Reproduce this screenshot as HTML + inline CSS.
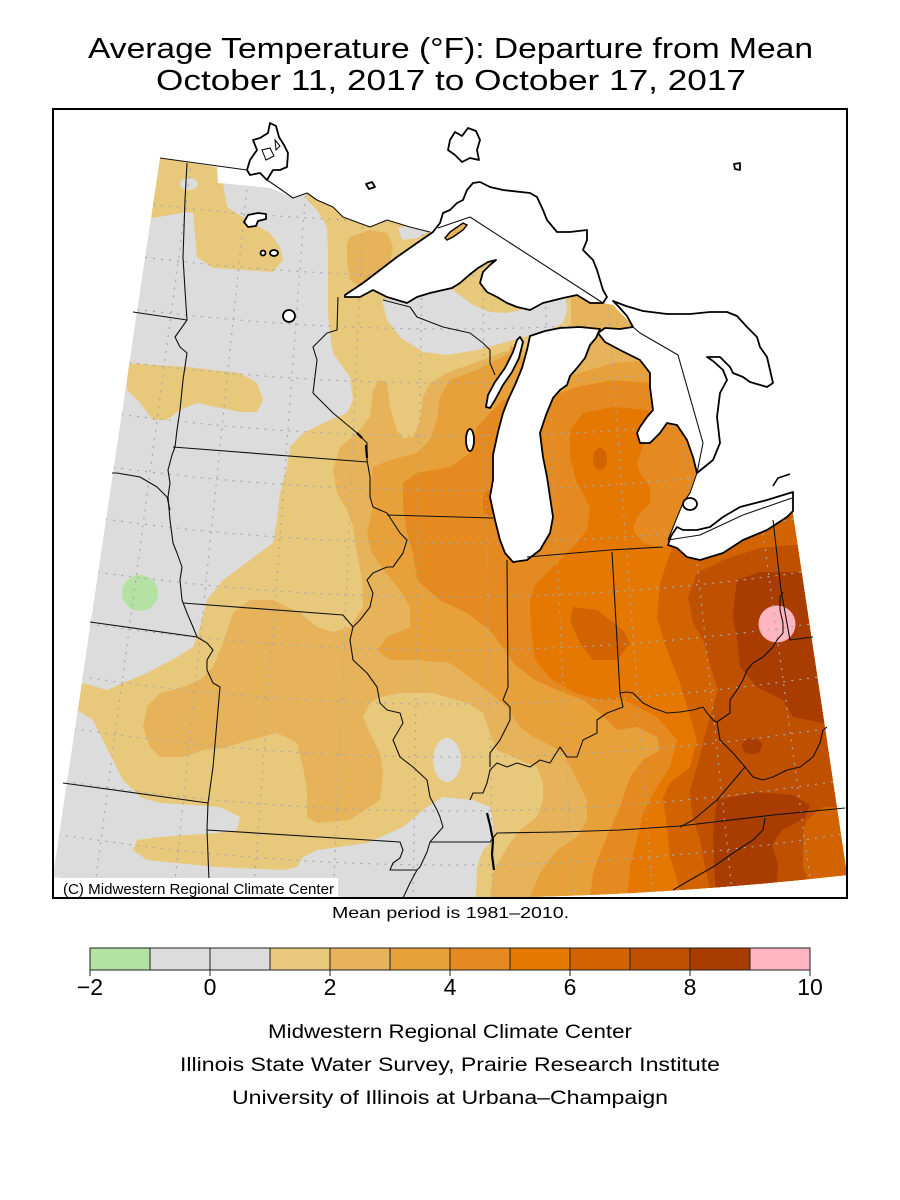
<!DOCTYPE html>
<html><head><meta charset="utf-8"><style>
html,body{margin:0;padding:0;background:#fff;}
svg{display:block;}
text{font-family:"Liberation Sans",sans-serif;fill:#000;}
</style></head><body>
<svg width="900" height="1200" viewBox="0 0 900 1200" xmlns="http://www.w3.org/2000/svg">
<defs>
<clipPath id="dom"><path d="M160,158 L217,167 L218,183 L270,188 L293,198 L307,193 L317,200 L333,207 L343,217 L370,227 L387,220 L410,227 L430,232 L470,217 L603,303 L613,305 L640,333 L678,355 L703,443 L697,473 L690,493 L683,503 L676,520 L668,540 L700,535 L743,515 L792,498 L792,508 L847,875 Q450,920 53,877 Z"/></clipPath>
<clipPath id="frame"><rect x="53" y="109" width="794" height="789"/></clipPath>
</defs>

<text x="88" y="58" font-size="29" textLength="725" lengthAdjust="spacingAndGlyphs">Average Temperature (°F): Departure from Mean</text>
<text x="156" y="90" font-size="29" textLength="590" lengthAdjust="spacingAndGlyphs">October 11, 2017 to October 17, 2017</text>

<g clip-path="url(#frame)">
<g clip-path="url(#dom)">
<rect x="0" y="100" width="900" height="820" fill="#e8c87a"/>
<path fill="#dcdcdc" d="M100,200 L153,218 L187,212 L193,213 L197,257 L213,268 L273,272 L283,260 L280,247 L270,233 L247,220 L227,207 L223,183 L225,165 L300,165 L307,200 L317,210 L327,227 L328,250 L328,313 L330,333 L333,353 L340,363 L350,377 L353,400 L347,413 L330,420 L303,433 L290,447 L287,467 L280,493 L277,520 L273,543 L250,560 L223,580 L207,600 L200,627 L193,647 L177,657 L147,673 L123,683 L107,690 L83,683 L40,683 L40,200 Z"/>
<path fill="#e8c87a" d="M126,363 L187,367 L240,373 L257,383 L263,400 L257,412 L240,412 L197,403 L180,410 L167,420 L153,420 L140,403 L127,390 Z"/>
<ellipse cx="189" cy="184" rx="9" ry="6" fill="#dcdcdc"/>
<path fill="#dcdcdc" d="M382,300 L447,285 L457,293 L473,305 L490,312 L507,313 L530,308 L547,300 L565,292 L567,310 L563,323 L550,330 L523,337 L503,343 L477,350 L447,355 L423,352 L400,337 L387,320 Z"/>
<path fill="#dcdcdc" d="M398,228 L402,240 L417,238 L427,233 L415,224 Z"/>
<path fill="#dcdcdc" d="M60,710 L77,710 L93,720 L103,740 L113,760 L123,780 L140,797 L160,803 L193,805 L220,807 L240,817 L237,830 L217,833 L160,837 L137,840 L133,850 L147,860 L217,867 L283,870 L297,867 L303,857 L317,850 L367,843 L403,827 L427,807 L443,797 L473,800 L490,807 L493,820 L493,840 L483,850 L477,867 L475,920 L30,920 L30,710 Z"/>
<path fill="#e6b35a" d="M350,237 L370,230 L387,233 L393,247 L390,263 L377,277 L360,287 L350,280 L347,260 L347,243 Z"/>
<path fill="#e6b35a" d="M566,270 L571,297 L571,325 L567,336 L550,343 L530,348 L503,352 L477,362 L447,373 L430,383 L423,397 L420,420 L413,437 L403,438 L397,430 L390,407 L387,383 L380,380 L373,390 L370,417 L357,433 L340,447 L333,470 L337,493 L347,510 L353,527 L357,553 L362,580 L363,607 L350,627 L333,632 L317,627 L300,613 L273,600 L250,600 L233,613 L223,643 L213,667 L200,680 L183,687 L160,693 L147,707 L143,727 L150,747 L160,757 L183,757 L203,750 L223,748 L250,740 L277,733 L297,743 L303,767 L307,790 L307,817 L317,823 L350,820 L380,800 L383,773 L380,753 L370,733 L363,717 L370,703 L380,697 L400,693 L433,693 L467,703 L483,713 L490,733 L497,750 L520,760 L537,767 L543,783 L543,800 L537,817 L520,830 L510,843 L500,860 L493,873 L490,898 L490,920 L900,920 L900,200 L700,200 Z"/>
<ellipse cx="447" cy="760" rx="14" ry="22" fill="#dcdcdc"/>
<path fill="#e7a03a" d="M510,345 L510,353 L477,370 L450,380 L440,397 L437,420 L430,440 L417,453 L390,460 L373,467 L370,493 L373,507 L367,533 L372,553 L385,572 L400,590 L410,607 L410,627 L387,637 L377,650 L390,660 L417,660 L450,663 L473,680 L490,693 L507,707 L520,727 L533,737 L550,745 L563,753 L577,780 L587,800 L587,820 L577,837 L557,850 L540,873 L530,898 L530,920 L900,920 L900,300 L700,300 L650,360 L613,363 L580,373 L550,383 Z"/>
<path fill="#e58a20" d="M503,400 L490,413 L477,427 L470,453 L450,467 L417,473 L403,483 L403,507 L407,533 L413,553 L417,580 L440,600 L467,613 L490,630 L503,648 L515,665 L535,680 L557,690 L583,700 L600,713 L617,730 L637,727 L657,737 L660,750 L643,760 L630,777 L620,807 L610,830 L600,853 L593,873 L590,898 L590,920 L900,920 L900,380 L700,380 L650,383 L613,380 L577,387 L550,397 Z"/>
<path fill="#e57800" d="M570,430 L570,457 L577,483 L590,507 L587,530 L575,545 L553,567 L535,585 L530,600 L531,630 L535,660 L550,678 L575,693 L600,700 L620,700 L630,703 L657,717 L677,740 L670,767 L657,787 L643,813 L637,840 L630,867 L627,898 L627,920 L900,920 L900,520 L700,528 L680,540 L663,547 L643,543 L633,530 L637,517 L650,503 L650,487 L640,473 L637,463 L645,440 L655,420 L647,410 L613,407 L583,413 Z"/>
<ellipse cx="489" cy="503" rx="6" ry="13" fill="#e57800"/>
<path fill="#d26400" d="M672,548 L660,583 L657,617 L665,645 L680,683 L690,717 L697,740 L690,767 L670,783 L663,797 L667,827 L670,857 L677,880 L680,898 L680,920 L900,920 L900,470 L700,520 Z"/>
<ellipse cx="600" cy="459" rx="7" ry="11" fill="#d26400"/>
<path fill="#d26400" d="M573,607 L597,610 L623,630 L630,643 L617,660 L593,660 L580,643 L570,620 Z"/>
<path fill="#bf5000" d="M723,560 L760,548 L900,535 L900,805 L837,807 L823,807 L807,820 L803,833 L803,867 L807,877 L807,920 L712,920 L712,898 L705,867 L700,840 L692,815 L690,790 L697,767 L705,735 L712,710 L718,690 L710,665 L703,640 L693,623 L688,597 L697,573 Z"/>
<path fill="#a93c00" d="M735,595 L737,580 L760,572 L793,572 L900,575 L900,725 L823,723 L793,717 L783,700 L757,687 L740,667 L737,640 L733,617 Z"/>
<ellipse cx="752" cy="746" rx="10" ry="8" fill="#a93c00"/>
<path fill="#a93c00" d="M715,815 L717,800 L757,792 L793,795 L810,805 L805,818 L782,830 L772,845 L778,865 L777,880 L770,920 L717,920 L714,860 L713,833 Z"/>
<circle cx="777" cy="624" r="18.5" fill="#ffb6c1"/>
<circle cx="140" cy="593" r="18" fill="#b4e2a2"/>
<g fill="none" stroke="#a8a8a8" stroke-width="1.2" stroke-dasharray="2 6">
<path d="M50,137 Q450,201 850,137"/>
<path d="M50,190 Q450,254 850,190"/>
<path d="M50,244 Q450,308 850,244"/>
<path d="M50,297 Q450,361 850,297"/>
<path d="M50,351 Q450,415 850,351"/>
<path d="M50,404 Q450,468 850,404"/>
<path d="M50,458 Q450,522 850,458"/>
<path d="M50,511 Q450,575 850,511"/>
<path d="M50,565 Q450,629 850,565"/>
<path d="M50,618 Q450,682 850,618"/>
<path d="M50,672 Q450,736 850,672"/>
<path d="M50,725 Q450,789 850,725"/>
<path d="M50,779 Q450,843 850,779"/>
<path d="M50,833 Q450,897 850,833"/>
<path d="M93,900 L197,120"/>
<path d="M173,900 L254,120"/>
<path d="M253,900 L311,120"/>
<path d="M333,900 L367,120"/>
<path d="M413,900 L424,120"/>
<path d="M493,900 L480,120"/>
<path d="M573,900 L537,120"/>
<path d="M653,900 L594,120"/>
<path d="M733,900 L650,120"/>
<path d="M813,900 L707,120"/>
</g>
</g>

<g fill="#fff" stroke="#000" stroke-width="1.8" stroke-linejoin="round">
<path d="M345,295 L363,283 L380,270 L397,257 L417,243 L433,232 L440,223 L443,213 L450,210 L457,203 L463,200 L467,190 L473,183 L480,182 L490,187 L503,190 L530,193 L537,197 L543,210 L547,220 L557,232 L570,232 L587,230 L587,240 L583,250 L593,260 L597,270 L600,280 L603,290 L607,297 L603,303 L590,303 L577,295 L563,298 L543,303 L530,310 L517,307 L507,303 L497,297 L487,292 L480,283 L483,272 L490,265 L496,260 L488,262 L478,268 L468,276 L460,283 L452,288 L430,293 L417,297 L407,303 L397,300 L387,297 L373,290 L360,297 L345,297 Z"/>
<path d="M530,336 L545,331 L560,328 L580,327 L600,329 L596,338 L590,345 L585,358 L577,368 L570,376 L567,385 L560,390 L553,398 L546,415 L540,433 L543,457 L547,477 L550,497 L553,517 L550,533 L540,550 L527,560 L513,562 L505,553 L500,540 L495,520 L490,497 L493,480 L493,455 L498,432 L503,413 L508,400 L515,385 L522,368 L527,350 Z"/>
<path d="M520,337 L523,342 L519,358 L512,372 L503,385 L495,400 L490,408 L486,407 L488,395 L495,382 L505,368 L513,352 L517,340 Z"/>
<path d="M598,333 L605,328 L620,329 L633,327 L627,316 L618,306 L613,301 L626,306 L643,311 L667,314 L690,314 L710,312 L727,312 L737,316 L747,327 L757,337 L760,347 L767,357 L770,370 L773,383 L767,387 L750,382 L743,377 L733,373 L730,367 L720,357 L707,357 L713,361 L723,370 L727,380 L720,393 L717,417 L720,443 L713,460 L697,473 L693,457 L687,440 L677,425 L667,423 L660,433 L650,443 L640,443 L637,433 L640,427 L647,417 L653,410 L650,387 L650,373 L640,360 L620,350 L605,342 Z"/>
<path d="M668,545 L677,548 L687,557 L700,560 L723,553 L743,540 L767,530 L787,517 L793,511 L793,492 L767,500 L740,507 L723,517 L710,527 L697,530 L683,530 L677,527 L671,536 Z"/>
<ellipse cx="690" cy="504" rx="7" ry="6"/>
<path d="M247,170 L250,160 L257,150 L253,140 L260,138 L268,133 L270,123 L276,126 L279,137 L284,145 L288,153 L287,167 L280,170 L273,170 L267,180 L260,173 L250,175 Z"/>
<path d="M244,222 L248,215 L258,213 L266,214 L266,219 L258,221 L256,226 L248,227 Z"/>
<ellipse cx="289" cy="316" rx="6" ry="6"/>
<ellipse cx="274" cy="253" rx="4" ry="3"/>
<ellipse cx="263" cy="253" rx="2.5" ry="2.5"/>
<ellipse cx="470" cy="440" rx="4" ry="11"/>
<path d="M450,140 L455,132 L462,136 L468,128 L476,131 L480,140 L477,150 L479,160 L470,158 L462,162 L455,155 L448,150 Z"/>
<path d="M366,184 L372,182 L375,187 L369,189 Z"/>
<path d="M734,164 L740,163 L740,170 L735,169 Z"/>
</g>
<path d="M773,486 L778,478 L790,474" fill="none" stroke="#000" stroke-width="1.6"/>
<path d="M445,238 L450,232 L463,223 L467,225 L463,230 L453,237 L447,240 Z" fill="#e6b35a" stroke="#000" stroke-width="1.4"/>
<path d="M262,150 L270,148 L274,156 L266,160 Z M275,140 L280,146 L276,150 Z" fill="none" stroke="#000" stroke-width="1"/>

<g fill="none" stroke="#111" stroke-width="1.1" stroke-linejoin="round">
<path d="M160,158 L247,170"/>
<path d="M267,180 L276,186 L293,198 L307,193 L317,200 L333,207 L343,217 L370,227 L387,220 L410,227 L430,232"/>
<path d="M438,228 L470,217 L603,303"/>
<path d="M633,327 L640,333 L678,355 L703,443 L697,473 L690,493 L683,503 L676,520 L668,540"/>
<path d="M668,540 L700,535 L743,515 L792,498"/>
<path d="M187,163 L185,200 L183,257 L185,290 L187,320 L180,330 L175,337 L180,347 L187,353 L183,380 L180,410 L177,430 L175,447 L172,455 L168,470 L170,483 L168,497 L170,520 L173,543 L177,553 L182,567 L180,580 L182,600 L187,613 L193,627 L197,637 L207,643 L213,650 L207,660 L207,670 L213,683 L220,687 L213,767 L208,803 L207,830 L209,880"/>
<path d="M133,312 L187,320"/>
<path d="M112,473 L117,473 L140,477 L157,487 L167,497 L170,510"/>
<path d="M90,622 L197,637"/>
<path d="M63,783 L208,803"/>
<path d="M207,830 L400,842 L403,850 L400,858 L393,863 L390,870 L417,870"/>
<path d="M430,842 L490,842 L497,833 L560,832 L620,830 L680,826 L773,815 L845,808"/>
<path d="M183,603 L343,615 L353,627"/>
<path d="M173,447 L367,462"/>
<path d="M338,297 L337,330 L327,333 L313,347 L317,360 L313,393 L333,413 L357,433 L367,443 L367,460 L370,477 L370,497 L373,507 L387,513 L400,533 L407,540 L403,553 L393,567 L387,567 L373,573 L367,580 L373,593 L370,607 L360,620 L353,627 L350,640 L353,660 L367,673 L377,687 L380,703 L387,710 L400,713 L403,723 L393,740 L400,757 L413,767 L427,780 L430,797 L437,810 L440,817 L443,827 L430,842 L427,852 L420,867 L417,870 L410,883 L403,898"/>
<path d="M387,515 L493,518"/>
<path d="M383,300 L410,307 L417,317 L443,327 L470,333 L483,343 L490,350 L490,363 L495,375"/>
<path d="M507,560 L508,687 L503,700 L510,707 L510,720 L500,740 L490,753 L490,767"/>
<path d="M470,800 L473,793 L483,793 L487,783 L490,770 L497,763 L507,767 L517,763 L530,767 L540,760 L550,763 L560,747 L567,757 L577,757 L583,740 L597,733 L597,720 L607,713 L623,707 L620,693 L627,692 L633,693 L643,703 L653,708 L667,713 L680,712 L693,710 L703,707 L707,713 L713,720 L717,722 L730,713 L730,700 L737,690 L743,680 L747,670 L753,663 L763,657 L773,647 L777,640 L783,633 L783,623 L780,610 L780,597 L783,592"/>
<path d="M773,520 L781,590 L790,640 L813,637"/>
<path d="M612,552 L620,693"/>
<path d="M527,557 L610,550 L663,547"/>
<path d="M717,722 L720,740 L733,753 L745,767 L753,777 L763,780 L773,777 L787,770 L800,767 L813,757 L820,743 L823,730 L827,727"/>
<path d="M745,767 L717,800 L693,820 L680,827"/>
<path d="M765,818 L763,830 L753,840 L733,853 L713,867 L690,880 L673,890"/>
</g>
<path d="M487,813 L490,825 L493,840 L492,855 L494,870" fill="none" stroke="#000" stroke-width="2.2"/>
<path d="M357,433 L362,438 M366,445 L367,458" fill="none" stroke="#000" stroke-width="2.2"/>

<rect x="53" y="878" width="285" height="20" fill="#fff"/>
<text x="63" y="894" font-size="15" textLength="271" lengthAdjust="spacingAndGlyphs">(C) Midwestern Regional Climate Center</text>
</g>
<rect x="53" y="109" width="794" height="789" fill="none" stroke="#000" stroke-width="2"/>

<text x="332" y="918" font-size="16" textLength="237" lengthAdjust="spacingAndGlyphs">Mean period is 1981–2010.</text>

<g stroke="#222" stroke-width="1">
<rect x="90" y="948" width="60" height="22" fill="#b4e2a2"/>
<rect x="150" y="948" width="60" height="22" fill="#dcdcdc"/>
<rect x="210" y="948" width="60" height="22" fill="#dcdcdc"/>
<rect x="270" y="948" width="60" height="22" fill="#e8c87a"/>
<rect x="330" y="948" width="60" height="22" fill="#e6b35a"/>
<rect x="390" y="948" width="60" height="22" fill="#e7a03a"/>
<rect x="450" y="948" width="60" height="22" fill="#e58a20"/>
<rect x="510" y="948" width="60" height="22" fill="#e57800"/>
<rect x="570" y="948" width="60" height="22" fill="#d26400"/>
<rect x="630" y="948" width="60" height="22" fill="#bf5000"/>
<rect x="690" y="948" width="60" height="22" fill="#a93c00"/>
<rect x="750" y="948" width="60" height="22" fill="#ffb6c1"/>
<path d="M90,970 V976 M210,970 V976 M330,970 V976 M450,970 V976 M570,970 V976 M690,970 V976 M810,970 V976" fill="none"/>
</g>
<g font-size="23" text-anchor="middle">
<text x="90" y="995">−2</text>
<text x="210" y="995">0</text>
<text x="330" y="995">2</text>
<text x="450" y="995">4</text>
<text x="570" y="995">6</text>
<text x="690" y="995">8</text>
<text x="810" y="995">10</text>
</g>

<text x="268" y="1038" font-size="19" textLength="364" lengthAdjust="spacingAndGlyphs">Midwestern Regional Climate Center</text>
<text x="180" y="1071" font-size="19" textLength="540" lengthAdjust="spacingAndGlyphs">Illinois State Water Survey, Prairie Research Institute</text>
<text x="232" y="1104" font-size="19" textLength="436" lengthAdjust="spacingAndGlyphs">University of Illinois at Urbana–Champaign</text>
</svg>
</body></html>
